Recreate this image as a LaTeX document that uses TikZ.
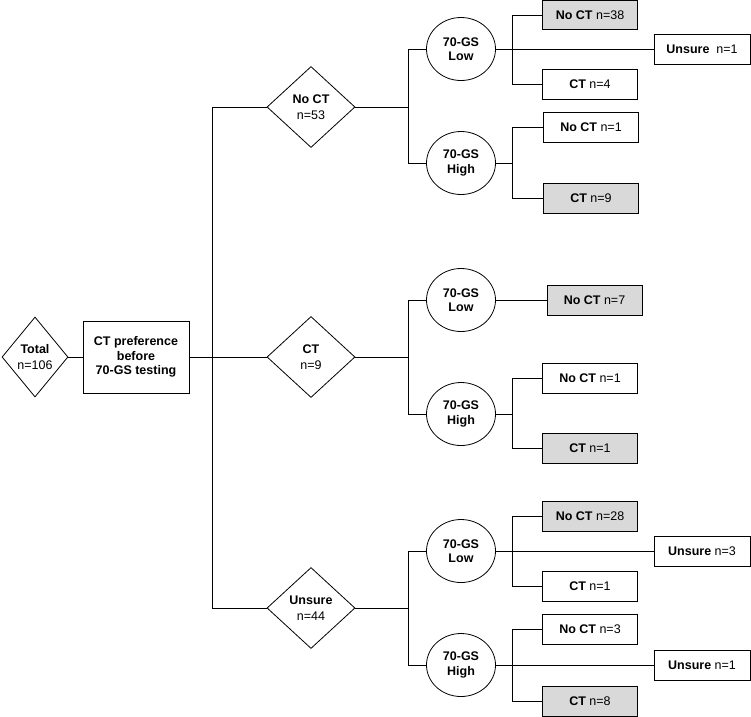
\documentclass[tikz,border=0pt]{standalone}
\usepackage{fontspec}
\setmainfont{Liberation Sans}
\usetikzlibrary{shapes.geometric}
\begin{document}
\begin{tikzpicture}[x=1pt,y=-1pt,line width=0.8pt,
  every node/.style={font=\fontsize{12.5}{14.5}\selectfont, align=center, inner sep=0pt},
  dia/.style={draw, diamond, minimum width=88pt, minimum height=81pt, aspect=1.086},
  ell/.style={draw, ellipse, minimum width=69pt, minimum height=63pt},
  bx/.style={draw, rectangle, minimum width=95pt, minimum height=30pt},
  gbx/.style={bx, fill=black!15},
  ubx/.style={draw, rectangle, minimum width=96pt, minimum height=30pt}]
\useasboundingbox (0,0) rectangle (751,716);
% root
\node[draw, diamond, minimum width=66pt, minimum height=80pt, aspect=0.825] (total) at (35,357) {\textbf{Total}\\[1.5pt]n=106};
\node[draw, rectangle, minimum width=106pt, minimum height=72pt] (pref) at (136,357) {\textbf{CT preference}\\\textbf{before}\\\textbf{70-GS testing}};
% level 1
\node[dia] (noct) at (311,107) {\textbf{No CT}\\[1.5pt]n=53};
\node[dia] (ct) at (311,357) {\textbf{CT}\\[1.5pt]n=9};
\node[dia] (uns) at (311,608) {\textbf{Unsure}\\[1.5pt]n=44};
% level 2
\node[ell] (lowA) at (461,49) {\textbf{70-GS}\\\textbf{Low}};
\node[ell] (highA) at (461,163) {\textbf{70-GS}\\\textbf{High}};
\node[ell] (lowB) at (461,300) {\textbf{70-GS}\\\textbf{Low}};
\node[ell] (highB) at (461,414) {\textbf{70-GS}\\\textbf{High}};
\node[ell] (lowC) at (461,551) {\textbf{70-GS}\\\textbf{Low}};
\node[ell] (highC) at (461,665) {\textbf{70-GS}\\\textbf{High}};
% level 3
\node[gbx, minimum height=29pt] (nocA1) at (590,15) {\textbf{No CT} n=38};
\node[ubx] (unsA1) at (702,49) {\textbf{Unsure}\ \ n=1};
\node[bx] (ctA1) at (590,84) {\textbf{CT} n=4};
\node[bx] (nocA2) at (591,127) {\textbf{No CT} n=1};
\node[gbx] (ctA2) at (591,198) {\textbf{CT} n=9};
\node[gbx] (nocB1) at (594.5,300) {\textbf{No CT} n=7};
\node[bx] (nocB2) at (590,378) {\textbf{No CT} n=1};
\node[gbx] (ctB2) at (590,448) {\textbf{CT} n=1};
\node[gbx] (nocC1) at (590,516) {\textbf{No CT} n=28};
\node[ubx] (unsC1) at (702,551) {\textbf{Unsure} n=3};
\node[bx] (ctC1) at (590,586) {\textbf{CT} n=1};
\node[bx] (nocC2) at (590,629) {\textbf{No CT} n=3};
\node[ubx] (unsC2) at (702,665) {\textbf{Unsure} n=1};
\node[gbx] (ctC2) at (590,701) {\textbf{CT} n=8};
% junctions
\coordinate (jA) at (408,107);
\coordinate (jB) at (408,357);
\coordinate (jC) at (408,608);
\coordinate (kA1) at (512,49);
\coordinate (kA2) at (512,163);
\coordinate (kB2) at (512,414);
\coordinate (kC1) at (512,551);
\coordinate (kC2) at (512,665);
% connectors
\draw (total.east) -- (pref.west);
\draw (pref.east) -- (ct.west);
\draw (noct.west) -- ++(-54,0) |- (uns.west);
\draw (noct.east) -- (jA);
\draw (ct.east) -- (jB);
\draw (uns.east) -- (jC);
\draw (lowA.west) -| (jA); \draw (highA.west) -| (jA);
\draw (lowB.west) -| (jB); \draw (highB.west) -| (jB);
\draw (lowC.west) -| (jC); \draw (highC.west) -| (jC);
\draw (lowA.east) -- (unsA1.west);
\draw (nocA1.west) -| (kA1); \draw (ctA1.west) -| (kA1);
\draw (highA.east) -- (kA2);
\draw (nocA2.west) -| (kA2); \draw (ctA2.west) -| (kA2);
\draw (lowB.east) -- (nocB1.west);
\draw (highB.east) -- (kB2);
\draw (nocB2.west) -| (kB2); \draw (ctB2.west) -| (kB2);
\draw (lowC.east) -- (unsC1.west);
\draw (nocC1.west) -| (kC1); \draw (ctC1.west) -| (kC1);
\draw (highC.east) -- (unsC2.west);
\draw (nocC2.west) -| (kC2); \draw (ctC2.west) -| (kC2);
\end{tikzpicture}
\end{document}
